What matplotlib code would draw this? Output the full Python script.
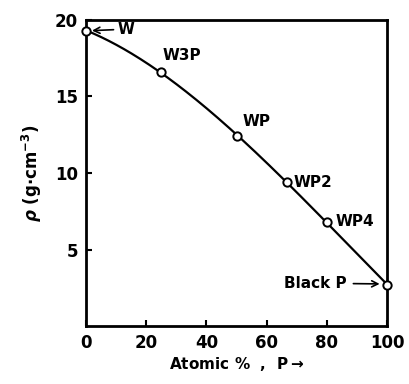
import numpy as np
import matplotlib.pyplot as plt

# composition (atomic % P) and density (g/cm3)
labels = ["W", "W3P", "WP", "WP2", "WP4", "Black P"]
at_pct = [0, 25, 50, 66.7, 80, 100]
density = [19.3, 16.6, 12.4, 9.4, 6.8, 2.7]

plt.rcParams['font.family'] = ['DejaVu Sans']
plt.rcParams['font.weight'] = 'bold'

fig = plt.figure(figsize=(4.1, 3.84), dpi=100)
ax = fig.add_axes([0.21, 0.151, 0.734, 0.797])

# smooth curve through the measured points
coef = np.polyfit(at_pct, density, 3)
xs = np.linspace(0, 100, 200)
ax.plot(xs, np.polyval(coef, xs), color='black', lw=1.6, clip_on=False)
ax.plot(at_pct, density, 'o', ms=6, mfc='white', mec='black', mew=1.4,
        clip_on=False, zorder=5)

ax.set_xlim(0, 100)
ax.set_ylim(0, 20)
ax.set_xticks([0, 20, 40, 60, 80, 100])
ax.set_yticks([5, 10, 15, 20])
ax.tick_params(direction='in', length=4, width=1.5, labelsize=12, pad=6)
for s in ax.spines.values():
    s.set_linewidth(2)

ax.set_xlabel(r"Atomic %  ,  P$\rightarrow$", fontsize=11, fontweight='bold', labelpad=2)
ax.set_ylabel(r"$\rho$ (g$\cdot$cm$^{-3}$)", fontsize=12, fontweight='bold', labelpad=8)

kw = dict(fontsize=11, fontweight='bold')
ax.annotate("W", xy=(1.5, 19.3), xytext=(10.5, 19.4), va='center',
            arrowprops=dict(arrowstyle='->', lw=1.2, color='black',
                            shrinkA=1, shrinkB=1), **kw)
ax.text(25.5, 17.2, "W3P", va='bottom', **kw)
ax.text(52, 12.9, "WP", va='bottom', **kw)
ax.text(69, 9.4, "WP2", va='center', **kw)
ax.text(83, 6.8, "WP4", va='center', **kw)
ax.annotate("Black P", xy=(98, 2.75), xytext=(86.5, 2.8), va='center', ha='right',
            arrowprops=dict(arrowstyle='->', lw=1.2, color='black',
                            shrinkA=3, shrinkB=1), **kw)

fig.savefig("out.png", dpi=100)
